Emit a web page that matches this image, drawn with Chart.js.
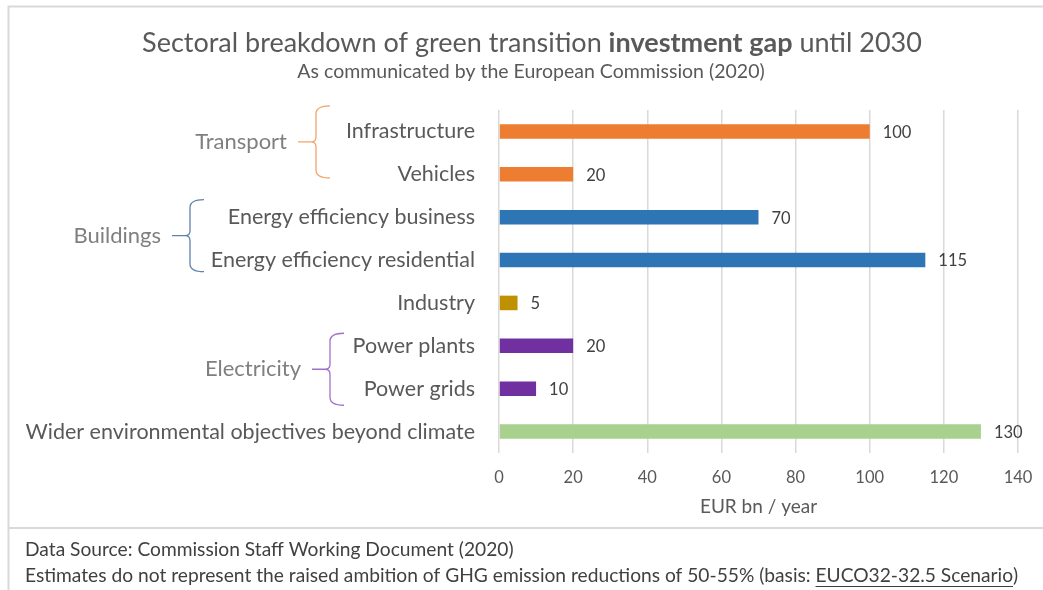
<!DOCTYPE html>
<html>
<head>
<meta charset="utf-8">
<script src="https://cdn.jsdelivr.net/npm/chart.js@4"></script>
<style>
  html, body { margin: 0; padding: 0; background: #fff; }
  #wrap { width: 1043px; height: 590px; position: relative; }
</style>
</head>
<body>
<div id="wrap"><canvas id="gapChart"></canvas></div>
<script>
const categories = [
    "Infrastructure",
    "Vehicles",
    "Energy efficiency business",
    "Energy efficiency residential",
    "Industry",
    "Power plants",
    "Power grids",
    "Wider environmental objectives beyond climate"
];
const gapValues = [100, 20, 70, 115, 5, 20, 10, 130];
const barColors = ["#ED7D31", "#ED7D31", "#2E75B6", "#2E75B6", "#BF9000", "#7030A0", "#7030A0", "#A9D18E"];
const xTicks = [0, 20, 40, 60, 80, 100, 120, 140];

// sector groups shown with braces on the left
const groupNames = ["Transport", "Buildings", "Electricity"];
const groupRows = [[0, 1], [2, 3], [5, 6]];

const FONT = "Lato, 'Open Sans', sans-serif";

// brace placement per group (x of vertical stroke, vertical shift, colour)
const braceStyle = [
    { x: 316, shift: -11, color: "#F4A36C" },
    { x: 190, shift: -3, color: "#5F83AD" },
    { x: 330, shift: 2, color: "#A070CC" }
];

const framePlugin = {
    id: 'frame',
    beforeDraw(chart) {
        const ctx = chart.ctx;
        ctx.save();
        ctx.fillStyle = "#fff";
        ctx.fillRect(0, 0, chart.width, chart.height);
        ctx.strokeStyle = "#d9d9d9";
        ctx.lineWidth = 2;
        ctx.beginPath();
        ctx.moveTo(8.5, 590);
        ctx.lineTo(8.5, 6.5);
        ctx.lineTo(1043, 6.5);
        ctx.moveTo(8.5, 528);
        ctx.lineTo(1043, 528);
        ctx.stroke();
        ctx.restore();
    },
    afterDraw(chart) {
        const ctx = chart.ctx;
        ctx.save();
        // title with bold part
        const parts = [
            ["Sectoral breakdown of green transition ", "normal"],
            ["investment gap", "bold"],
            [" until 2030", "normal"]
        ];
        let total = 0;
        for (const p of parts) {
            ctx.font = p[1] + " 27px " + FONT;
            total += ctx.measureText(p[0]).width;
        }
        let x = 532 - total / 2;
        ctx.fillStyle = "#595959";
        ctx.textBaseline = "middle";
        ctx.textAlign = "left";
        for (const p of parts) {
            ctx.font = p[1] + " 27px " + FONT;
            ctx.fillText(p[0], x, 43);
            x += ctx.measureText(p[0]).width;
        }
        ctx.font = "19.5px " + FONT;
        ctx.textAlign = "center";
        ctx.fillText("As communicated by the European Commission (2020)", 531, 72);

        // footer
        ctx.textAlign = "left";
        ctx.fillStyle = "#404040";
        ctx.font = "19.2px " + FONT;
        ctx.fillText("Data Source: Commission Staff Working Document (2020)", 25, 550);
        const pre = "Estimates do not represent the raised ambition of GHG emission reductions of 50-55% (basis: ";
        const link = "EUCO32-32.5 Scenario";
        ctx.fillText(pre, 25, 576);
        const lx = 25 + ctx.measureText(pre).width;
        ctx.fillText(link, lx, 576);
        const lw = ctx.measureText(link).width;
        ctx.fillText(")", lx + lw, 576);
        ctx.strokeStyle = "#404040";
        ctx.lineWidth = 1;
        ctx.beginPath();
        ctx.moveTo(lx, 586.5);
        ctx.lineTo(lx + lw, 586.5);
        ctx.stroke();

        // group braces
        const yScale = chart.scales.y;
        ctx.lineWidth = 1.3;
        for (let i = 0; i < groupNames.length; i++) {
            const st = braceStyle[i];
            const c0 = yScale.getPixelForValue(groupRows[i][0]);
            const c1 = yScale.getPixelForValue(groupRows[i][1]);
            const mid = (c0 + c1) / 2 + st.shift;
            const top = mid - 36, bot = mid + 36;
            const bx = st.x;
            ctx.strokeStyle = st.color;
            ctx.beginPath();
            ctx.moveTo(bx + 14, top);
            ctx.quadraticCurveTo(bx, top, bx, top + 8);
            ctx.lineTo(bx, mid - 5);
            ctx.quadraticCurveTo(bx, mid, bx - 5, mid);
            ctx.quadraticCurveTo(bx, mid, bx, mid + 5);
            ctx.lineTo(bx, bot - 8);
            ctx.quadraticCurveTo(bx, bot, bx + 14, bot);
            ctx.moveTo(bx - 5, mid);
            ctx.lineTo(bx - 18, mid);
            ctx.stroke();
            ctx.fillStyle = "#7f7f7f";
            ctx.font = "22px " + FONT;
            ctx.textAlign = "right";
            ctx.fillText(groupNames[i], bx - 29, mid);
        }

        // value labels
        const meta = chart.getDatasetMeta(0);
        ctx.fillStyle = "#404040";
        ctx.font = "16.5px " + FONT;
        ctx.textAlign = "left";
        meta.data.forEach((bar, i) => {
            ctx.fillText(String(gapValues[i]), bar.x + 13, bar.y + 1);
        });
        ctx.restore();
    }
};

new Chart(document.getElementById('gapChart'), {
    type: 'bar',
    data: {
        labels: categories,
        datasets: [{
            data: gapValues,
            backgroundColor: barColors,
            borderWidth: 0,
            categoryPercentage: 1,
            barPercentage: 0.34
        }]
    },
    options: {
        indexAxis: 'y',
        responsive: true,
        maintainAspectRatio: false,
        animation: { duration: 0 },
        layout: { padding: { left: 0, right: 25, top: 110, bottom: 0 } },
        plugins: {
            legend: { display: false },
            tooltip: { enabled: false },
            title: { display: false }
        },
        scales: {
            x: {
                min: 0,
                max: 140,
                afterBuildTicks(scale) {
                    scale.ticks = xTicks.map(v => ({ value: v }));
                },
                afterFit(scale) {
                    scale.height = 137;
                    scale.paddingLeft = 0;
                    scale.paddingRight = 0;
                },
                grid: { color: "#d9d9d9", lineWidth: 1.5, drawTicks: false },
                border: { display: false },
                ticks: {
                    padding: 15,
                    color: "#595959",
                    font: { family: FONT, size: 16.5 }
                },
                title: {
                    display: true,
                    text: "EUR bn / year",
                    color: "#595959",
                    font: { family: FONT, size: 19 },
                    padding: { top: 0, bottom: 72 }
                }
            },
            y: {
                afterFit(scale) { scale.width = 499; },
                grid: { display: false, drawTicks: false },
                border: { display: false },
                ticks: {
                    padding: 24,
                    color: "#595959",
                    font: { family: FONT, size: 21.5 }
                }
            }
        }
    },
    plugins: [framePlugin]
});
</script>
</body>
</html>
